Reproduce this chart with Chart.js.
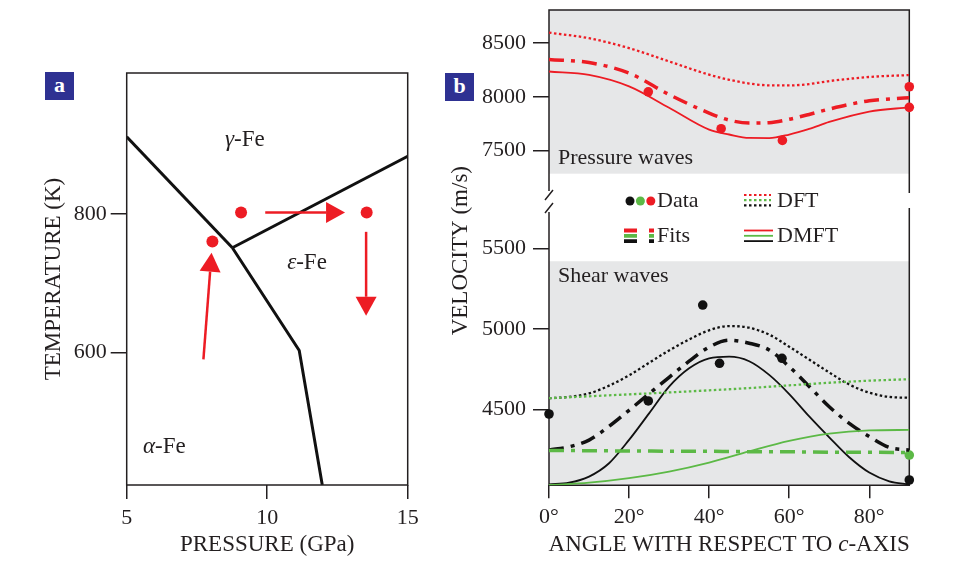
<!DOCTYPE html>
<html>
<head>
<meta charset="utf-8">
<script src="https://cdn.jsdelivr.net/npm/chart.js@4.4.1/dist/chart.umd.min.js"></script>
<style>
  body { margin: 0; background: #fff; }
  #wrap { position: relative; width: 960px; height: 572px; overflow: hidden; }
  canvas { position: absolute; top: 0; }
  .tag { position: absolute; width: 29px; height: 28px; background: #2e3192; color: #fff;
         font: bold 22px "Liberation Serif", serif; text-align: center; line-height: 26px; }
</style>
</head>
<body>
<div id="wrap">
  <canvas id="phaseChart" width="430" height="572" style="left:0"></canvas>
  <canvas id="velocityChart" width="530" height="572" style="left:430px"></canvas>
  <div class="tag" style="left:45px;top:72px">a</div>
  <div class="tag" style="left:445px;top:73px">b</div>
</div>
<script>
// ---- panel a: iron phase diagram ----
const pressureTicks = [5, 10, 15];
const temperatureTicks = [600, 800];
const alphaGammaP = [5, 8.76];
const alphaGammaT = [911, 751];
const gammaEpsP = [8.76, 15];
const gammaEpsT = [751, 883];
const alphaEpsP = [8.76, 11.14, 11.96];
const alphaEpsT = [751, 603, 409];
const runP = [9.07, 13.54, 8.05];
const runT = [802, 802, 760];
const arrowFromP = [7.73, 9.93, 13.52];
const arrowFromT = [590, 802, 774];
const arrowToP = [8.02, 12.77, 13.52];
const arrowToT = [744, 802, 653];
const phaseNames = ['γ', 'ε', 'α'];
const phaseP = [8.5, 10.71, 5.58];
const phaseT = [907, 729, 464];

// ---- panel b: velocity vs angle to c-axis ----
const angleTicks = [0, 20, 40, 60, 80];
const pressureVelTicks = [7500, 8000, 8500];
const shearVelTicks = [4500, 5000, 5500];

const pAngles = [0, 10, 20, 30, 40, 45, 50, 55, 60, 65, 70, 80, 90];
const pDFT  = [8597, 8545, 8453, 8329, 8205, 8158, 8123, 8106, 8105, 8118, 8146, 8184, 8202];
const pFit  = [8348, 8318, 8220, 8020, 7848, 7782, 7755, 7758, 7790, 7835, 7885, 7962, 7991];
const pDMFT = [8235, 8203, 8096, 7897, 7693, 7648, 7616, 7615, 7648, 7700, 7765, 7862, 7901];
const pDataAngle = [24.8, 43, 58.3, 90, 90];
const pDataVel = [8046, 7702, 7593, 8093, 7901];

const sAngles = [0, 5, 10, 15, 20, 25, 30, 35, 40, 45, 50, 55, 60, 65, 70, 75, 80, 85, 90];
const sDFTblack  = [4570, 4578, 4600, 4648, 4712, 4790, 4867, 4935, 4992, 5018, 5008, 4965, 4890, 4810, 4730, 4655, 4605, 4578, 4573];
const sFitBlack  = [4248, 4268, 4310, 4395, 4495, 4598, 4700, 4800, 4888, 4930, 4912, 4870, 4766, 4643, 4517, 4414, 4332, 4265, 4248];
const sDMFTblack = [4035, 4045, 4083, 4166, 4311, 4476, 4642, 4756, 4818, 4828, 4800, 4715, 4596, 4457, 4327, 4203, 4108, 4054, 4035];
const gAngles = [0, 10, 20, 30, 40, 50, 60, 70, 80, 90];
const sDFTgreen  = [4570, 4582, 4594, 4606, 4619, 4633, 4650, 4666, 4679, 4688];
const sFitGreen  = [4245, 4244, 4242, 4241, 4240, 4238, 4237, 4235, 4234, 4232];
const sDMFTgreen = [4031, 4045, 4073, 4114, 4170, 4240, 4305, 4350, 4370, 4373];
const sBlackAngle = [0, 24.8, 38.4, 42.6, 58.2, 90];
const sBlackVel = [4472, 4553, 5149, 4787, 4818, 4062];
const sGreenAngle = [90];
const sGreenVel = [4217];

const pressureShadeFloor = 7283;
const shearShadeCeil = 5421;

const serif = '"Liberation Serif", "Times New Roman", serif';
const ink = '#231f20';
const red = '#ed1c24';
const green = '#5cb946';
const black = '#111111';
const shade = '#e6e7e8';

Chart.defaults.font.family = serif;
Chart.defaults.color = ink;
Chart.defaults.animation = false;

const pts = (xs, ys) => xs.map((x, i) => ({x: x, y: ys[i]}));

function tickAxis(ticks, extra) {
    return Object.assign({
        type: 'linear',
        afterBuildTicks: s => { s.ticks = ticks.map(v => ({value: v})); },
        ticks: { font: { size: 22 }, color: ink, autoSkip: false, maxRotation: 0, callback: v => String(v) },
        grid: { display: true, drawOnChartArea: false, drawTicks: true, tickLength: 16, color: ink, lineWidth: 1.5 },
        border: { display: false }
    }, extra);
}

function mixedText(ctx, parts, x, y, size, align) {
    // parts: [[text, italic], ...]
    let total = 0;
    parts.forEach(p => { ctx.font = (p[1] ? 'italic ' : '') + size + 'px ' + serif; total += ctx.measureText(p[0]).width; });
    let cx = align === 'center' ? x - total / 2 : x;
    ctx.textAlign = 'left';
    parts.forEach(p => {
        ctx.font = (p[1] ? 'italic ' : '') + size + 'px ' + serif;
        ctx.fillText(p[0], cx, y);
        cx += ctx.measureText(p[0]).width;
    });
}

// ---------- panel a ----------
const phaseDecor = {
    id: 'phaseDecor',
    afterDatasetsDraw(chart) {
        const {ctx, chartArea: a, scales: {x, y}} = chart;
        ctx.save();
        ctx.strokeStyle = ink;
        ctx.lineWidth = 1.5;
        ctx.strokeRect(a.left, a.top, a.width, a.height);

        ctx.strokeStyle = red;
        ctx.fillStyle = red;
        ctx.lineWidth = 2.5;
        arrowFromP.forEach((p, i) => {
            const x0 = x.getPixelForValue(p), y0 = y.getPixelForValue(arrowFromT[i]);
            const x1 = x.getPixelForValue(arrowToP[i]), y1 = y.getPixelForValue(arrowToT[i]);
            const ang = Math.atan2(y1 - y0, x1 - x0);
            const head = 19, half = 10.5;
            const bx = x1 - head * Math.cos(ang), by = y1 - head * Math.sin(ang);
            ctx.beginPath();
            ctx.moveTo(x0, y0);
            ctx.lineTo(bx, by);
            ctx.stroke();
            ctx.beginPath();
            ctx.moveTo(x1, y1);
            ctx.lineTo(bx + half * Math.sin(ang), by - half * Math.cos(ang));
            ctx.lineTo(bx - half * Math.sin(ang), by + half * Math.cos(ang));
            ctx.closePath();
            ctx.fill();
        });

        ctx.fillStyle = ink;
        ctx.textBaseline = 'middle';
        phaseNames.forEach((g, i) => {
            mixedText(ctx, [[g, true], ['-Fe', false]], x.getPixelForValue(phaseP[i]), y.getPixelForValue(phaseT[i]), 23, 'left');
        });
        ctx.restore();
    }
};

const boundary = (xs, ys) => ({
    data: pts(xs, ys), showLine: true, borderColor: black, borderWidth: 3,
    pointRadius: 0, fill: false
});

new Chart(document.getElementById('phaseChart'), {
    type: 'scatter',
    data: {
        datasets: [
            boundary(alphaGammaP, alphaGammaT),
            boundary(gammaEpsP, gammaEpsT),
            boundary(alphaEpsP, alphaEpsT),
            { data: pts(runP, runT), pointRadius: 6, pointBackgroundColor: red, pointBorderWidth: 0, clip: false }
        ]
    },
    options: {
        responsive: false,
        layout: { padding: { top: 73, right: 22.3, bottom: 0, left: 0 } },
        plugins: { legend: { display: false }, tooltip: { enabled: false } },
        scales: {
            x: tickAxis(pressureTicks, {
                min: 5, max: 15, position: 'bottom',
                ticks: { font: { size: 22 }, color: ink, autoSkip: false, maxRotation: 0, padding: 6, callback: v => String(v) },
                grid: { display: true, drawOnChartArea: false, drawTicks: true, tickLength: 14, color: ink, lineWidth: 1.5 },
                title: { display: true, text: 'PRESSURE (GPa)', font: { size: 23 }, color: ink, padding: { bottom: 13 } },
                afterFit: s => { s.height = 87; }
            }),
            y: tickAxis(temperatureTicks, {
                min: 409, max: 1003, position: 'left',
                ticks: { font: { size: 22 }, color: ink, autoSkip: false, padding: 4, callback: v => String(v) },
                title: { display: true, text: 'TEMPERATURE (K)', font: { size: 23 }, color: ink, padding: { top: 40 } },
                afterFit: s => { s.width = 126.7; }
            })
        }
    },
    plugins: [phaseDecor]
});

// ---------- panel b ----------
function curve(xs, ys, color, style, axis) {
    const dash = style === 'dft' ? [2.5, 2.5] : style === 'fit' ? [15, 7, 4, 7] : [];
    const width = style === 'fit' ? 3.5 : style === 'dft' ? 2.3 : 1.8;
    return {
        data: pts(xs, ys), yAxisID: axis, showLine: true, borderColor: color,
        borderWidth: width, borderDash: dash, pointRadius: 0,
        cubicInterpolationMode: 'monotone', fill: false
    };
}
function dots(xs, ys, color, axis) {
    return { data: pts(xs, ys), yAxisID: axis, pointRadius: 4.8, pointBackgroundColor: color, pointBorderWidth: 0, clip: false };
}

const velocityDecor = {
    id: 'velocityDecor',
    beforeDatasetsDraw(chart) {
        const {ctx, chartArea: a, scales: {yTop, yBot}} = chart;
        ctx.save();
        ctx.fillStyle = shade;
        const t1 = yTop.getPixelForValue(pressureShadeFloor);
        ctx.fillRect(a.left, a.top, a.width, t1 - a.top);
        const b1 = yBot.getPixelForValue(shearShadeCeil);
        ctx.fillRect(a.left, b1, a.width, a.bottom - b1);

        // frame with axis break
        const br = yTop.bottom;
        ctx.strokeStyle = ink;
        ctx.lineWidth = 1.5;
        ctx.beginPath();
        ctx.moveTo(a.left, br - 2);
        ctx.lineTo(a.left, a.top);
        ctx.lineTo(a.right, a.top);
        ctx.lineTo(a.right, br);
        ctx.moveTo(a.right, br + 15);
        ctx.lineTo(a.right, a.bottom);
        ctx.lineTo(a.left, a.bottom);
        ctx.lineTo(a.left, br + 19);
        ctx.moveTo(a.left - 4, br + 7);
        ctx.lineTo(a.left + 4, br - 3);
        ctx.moveTo(a.left - 4, br + 20);
        ctx.lineTo(a.left + 4, br + 10);
        ctx.stroke();
        ctx.restore();
    },
    afterDraw(chart) {
        const {ctx, chartArea: a, scales: {yTop}} = chart;
        const br = yTop.bottom;
        ctx.save();
        ctx.fillStyle = ink;
        ctx.textBaseline = 'middle';
        ctx.textAlign = 'left';
        ctx.font = '22px ' + serif;
        ctx.fillText('Pressure waves', a.left + 9, 158);
        ctx.fillText('Shear waves', a.left + 9, 276);

        // legend
        const r1 = br + 8, r2 = br + 43;
        [black, green, red].forEach((c, i) => {
            ctx.fillStyle = c;
            ctx.beginPath();
            ctx.arc(a.left + 81 + i * 10.4, r1, 4.5, 0, Math.PI * 2);
            ctx.fill();
        });
        ctx.fillStyle = ink;
        ctx.fillText('Data', a.left + 108, r1);
        ctx.fillText('Fits', a.left + 108, r2);
        ctx.fillText('DFT', a.left + 228, r1);
        ctx.fillText('DMFT', a.left + 228, r2);
        [red, green, black].forEach((c, i) => {
            ctx.strokeStyle = c;
            ctx.lineWidth = 2.2;
            ctx.setLineDash([2.5, 2.5]);
            ctx.beginPath();
            ctx.moveTo(a.left + 195, r1 - 6 + i * 5.2);
            ctx.lineTo(a.left + 222, r1 - 6 + i * 5.2);
            ctx.stroke();
            ctx.setLineDash([]);
            ctx.lineWidth = 1.8;
            ctx.beginPath();
            ctx.moveTo(a.left + 195, r2 - 5.5 + i * 5.3);
            ctx.lineTo(a.left + 224, r2 - 5.5 + i * 5.3);
            ctx.stroke();
            ctx.lineWidth = 3.8;
            ctx.beginPath();
            ctx.moveTo(a.left + 75, r2 - 5.5 + i * 5.3);
            ctx.lineTo(a.left + 88, r2 - 5.5 + i * 5.3);
            ctx.moveTo(a.left + 100, r2 - 5.5 + i * 5.3);
            ctx.lineTo(a.left + 105, r2 - 5.5 + i * 5.3);
            ctx.stroke();
        });

        // axis titles
        ctx.fillStyle = ink;
        ctx.textBaseline = 'middle';
        mixedText(ctx, [['ANGLE WITH RESPECT TO ', false], ['c', true], ['-AXIS', false]],
            (a.left + a.right) / 2, 545, 23, 'center');
        ctx.translate(a.left - 88, (a.top + a.bottom) / 2 + 3);
        ctx.rotate(-Math.PI / 2);
        ctx.textAlign = 'center';
        ctx.font = '23px ' + serif;
        ctx.fillText('VELOCITY (m/s)', 0, 0);
        ctx.restore();
    }
};

// keep the tick-label overhang from pushing the plot area down
const fixVelocityAxis = s => { s.width = 119; s.paddingTop = 0; s.paddingBottom = 0; };

new Chart(document.getElementById('velocityChart'), {
    type: 'scatter',
    data: {
        datasets: [
            curve(pAngles, pDFT, red, 'dft', 'yTop'),
            curve(pAngles, pFit, red, 'fit', 'yTop'),
            curve(pAngles, pDMFT, red, 'dmft', 'yTop'),
            dots(pDataAngle, pDataVel, red, 'yTop'),
            curve(gAngles, sDFTgreen, green, 'dft', 'yBot'),
            curve(gAngles, sFitGreen, green, 'fit', 'yBot'),
            curve(gAngles, sDMFTgreen, green, 'dmft', 'yBot'),
            curve(sAngles, sDFTblack, black, 'dft', 'yBot'),
            curve(sAngles, sFitBlack, black, 'fit', 'yBot'),
            curve(sAngles, sDMFTblack, black, 'dmft', 'yBot'),
            dots(sGreenAngle, sGreenVel, green, 'yBot'),
            dots(sBlackAngle, sBlackVel, black, 'yBot')
        ]
    },
    options: {
        responsive: false,
        layout: { padding: { top: 10, right: 50.7, bottom: 0, left: 0 } },
        plugins: { legend: { display: false }, tooltip: { enabled: false } },
        scales: {
            x: tickAxis(angleTicks, {
                min: 0, max: 90, position: 'bottom',
                ticks: { font: { size: 22 }, color: ink, autoSkip: false, maxRotation: 0, padding: 6, callback: v => v + '°' },
                grid: { display: true, drawOnChartArea: false, drawTicks: true, tickLength: 13, color: ink, lineWidth: 1.5 },
                afterFit: s => { s.height = 86.7; }
            }),
            // left stacked axes are laid out in reverse order: last defined ends on top
            yBot: tickAxis(shearVelTicks, {
                min: 4029, max: 5845, position: 'left', stack: 'v', stackWeight: 292.3,
                ticks: { font: { size: 22 }, color: ink, autoSkip: false, padding: 7, callback: v => String(v) },
                afterFit: fixVelocityAxis
            }),
            yTop: tickAxis(pressureVelTicks, {
                min: 7103, max: 8808, position: 'left', stack: 'v', stackWeight: 183,
                ticks: { font: { size: 22 }, color: ink, autoSkip: false, padding: 7, callback: v => String(v) },
                afterFit: fixVelocityAxis
            })
        }
    },
    plugins: [velocityDecor]
});
</script>
</body>
</html>
